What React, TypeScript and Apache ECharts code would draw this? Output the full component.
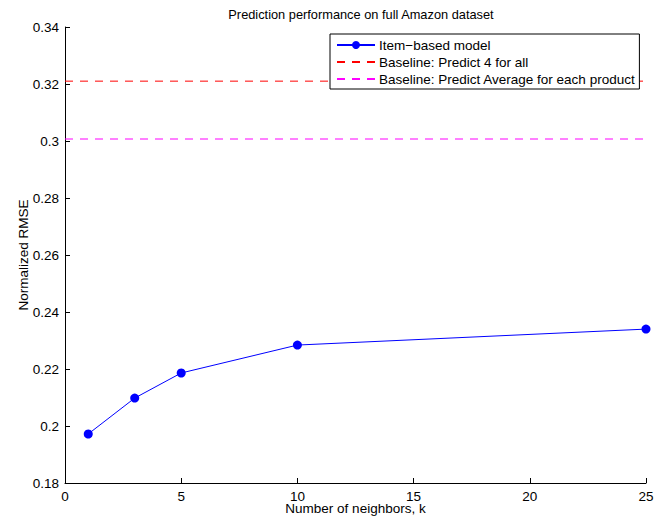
import React, { useEffect, useRef } from "react";
import * as echarts from "echarts";

const neighbors = [1, 3, 5, 10, 25];
const itemRmse = [0.1972, 0.2098, 0.2186, 0.2284, 0.234];
const baselinePredict4 = 0.321;
const baselineAverage = 0.3007;
const xRange = [0, 25];
const seriesNames = [
  "Item\u2212based model",
  "Baseline: Predict 4 for all",
  "Baseline: Predict Average for each product",
];

const FONT = "Liberation Sans, Arial, Helvetica, sans-serif";
const FS = 13.5;

export default function App() {
  const ref = useRef<HTMLDivElement>(null);
  useEffect(() => {
    if (!ref.current) return;
    const chart = echarts.init(ref.current, undefined, { renderer: "svg" });
    chart.setOption({
      animation: false,
      backgroundColor: "#ffffff",
      textStyle: { fontFamily: FONT },
      title: {
        text: "Prediction performance on full Amazon dataset",
        left: 356,
        top: 3,
        textAlign: "center",
        textStyle: { fontSize: 12.8, fontWeight: "normal", color: "#000", fontFamily: FONT },
      },
      legend: {
        orient: "vertical",
        left: 330,
        top: 34,
        backgroundColor: "#fff",
        borderColor: "#000",
        borderWidth: 1,
        borderRadius: 0,
        padding: [4, 4, 3, 6],
        itemWidth: 38,
        itemHeight: 10,
        itemGap: 3,
        textStyle: { fontSize: FS, lineHeight: 14, color: "#000", fontFamily: FONT, padding: [0, 0, 0, -1] },
        data: [
          { name: seriesNames[0] },
          { name: seriesNames[1], itemStyle: { opacity: 0 } },
          { name: seriesNames[2], itemStyle: { opacity: 0 } },
        ],
      },
      grid: {
        left: 65,
        right: 19,
        top: 27,
        bottom: 34,
        containLabel: false,
        outerBoundsMode: "none",
      },
      xAxis: {
        type: "value",
        min: xRange[0],
        max: xRange[1],
        interval: 5,
        name: "Number of neighbors, k",
        nameLocation: "middle",
        nameGap: 19,
        nameMoveOverlap: false,
        nameTextStyle: { fontSize: FS, lineHeight: 13, color: "#000", fontFamily: FONT },
        axisLine: { lineStyle: { color: "#000", width: 1 } },
        axisTick: { inside: true, length: 5, lineStyle: { color: "#000" } },
        axisLabel: { margin: 7, fontSize: FS, lineHeight: 12, color: "#000", fontFamily: FONT },
        splitLine: { show: false },
      },
      yAxis: {
        type: "value",
        min: 0.18,
        max: 0.34,
        interval: 0.02,
        name: "Normalized RMSE",
        nameLocation: "middle",
        nameGap: 35,
        nameMoveOverlap: false,
        nameTextStyle: { fontSize: FS, color: "#000", fontFamily: FONT },
        axisLine: { show: true, lineStyle: { color: "#000", width: 1 } },
        axisTick: { show: true, inside: true, length: 5, lineStyle: { color: "#000" } },
        axisLabel: {
          margin: 6,
          fontSize: FS,
          color: "#000",
          fontFamily: FONT,
          formatter: (v: number) => String(parseFloat(v.toFixed(2))),
        },
        splitLine: { show: false },
      },
      series: [
        {
          name: seriesNames[0],
          type: "line",
          data: neighbors.map((k, i) => [k, itemRmse[i]]),
          symbol: "circle",
          symbolSize: 9,
          itemStyle: { color: "#0000ff" },
          lineStyle: { color: "#0000ff", width: 1 },
          z: 5,
        },
        {
          name: seriesNames[1],
          type: "line",
          data: xRange.map((x) => [x, baselinePredict4]),
          symbol: "none",
          itemStyle: { color: "#ff0000" },
          lineStyle: { color: "#ff0000", width: 1, type: [8, 7] },
        },
        {
          name: seriesNames[2],
          type: "line",
          data: xRange.map((x) => [x, baselineAverage]),
          symbol: "none",
          itemStyle: { color: "#ff00ff" },
          lineStyle: { color: "#ff00ff", width: 1, type: [8, 7] },
        },
      ],
    });
    return () => chart.dispose();
  }, []);
  return (
    <div
      ref={ref}
      style={{ position: "fixed", left: 0, top: 0, width: 665, height: 517 }}
    />
  );
}
